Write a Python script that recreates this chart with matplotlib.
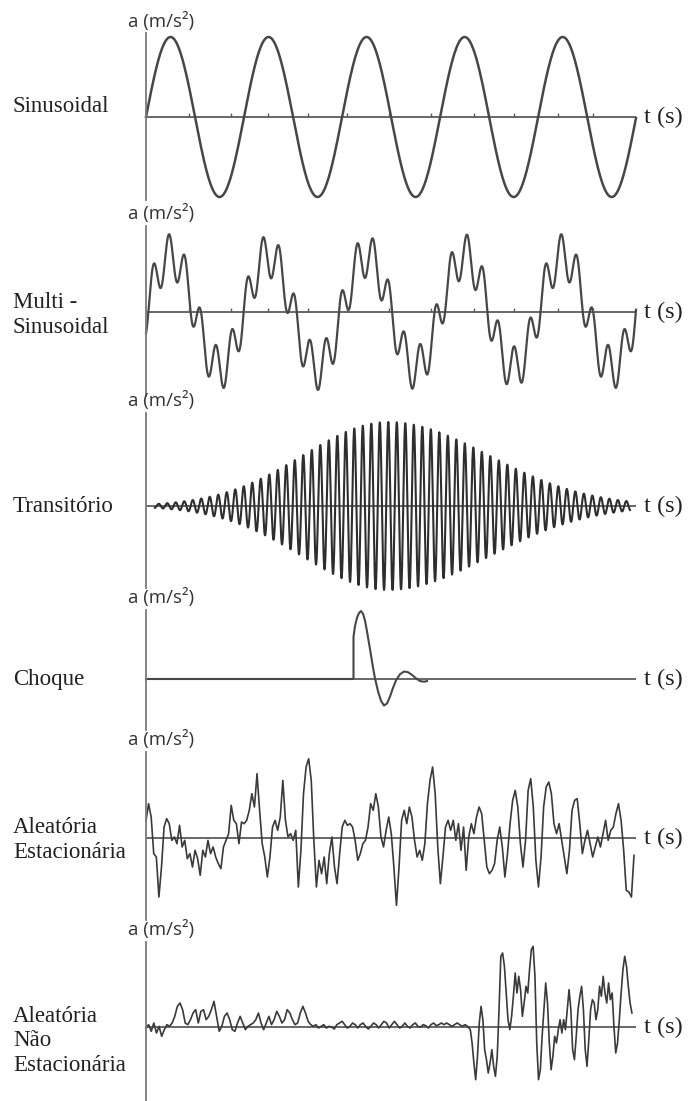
import numpy as np
import matplotlib
matplotlib.use("Agg")
import matplotlib.pyplot as plt

# ------------------------------------------------------------------ data
T_SPAN = 4.90                      # s, length of every time axis

# Sinusoidal
SINE_AMP = 1.0
SINE_FREQ = 1.02                   # Hz
SINE_PHASE = 0.0                   # rad

# Multi-sinusoidal (fundamental + harmonic)
MULTI_AMPS = [0.72, 0.28]
MULTI_FREQS = [1.02, 6.375]        # Hz
MULTI_PHASES = [0.0, 4.924]        # rad

# Transient (burst) : carrier + asymmetric bell envelope
TRANS_AMP = 1.0
TRANS_FREQ = 11.76                 # Hz
TRANS_PEAK_T = 2.423               # s
TRANS_SIGMA = [0.85, 1.00]         # s, rising / decaying side
TRANS_WINDOW = [0.09, 4.84]        # s

# Shock
shock_t = [0.0, 2.075, 2.075, 2.09, 2.11, 2.13, 2.15, 2.17, 2.19, 2.21, 2.24,
           2.27, 2.29, 2.32, 2.35, 2.38, 2.41, 2.44, 2.47, 2.50, 2.54, 2.58,
           2.62, 2.66, 2.70, 2.74, 2.78, 2.81]
shock_a = [0.0, 0.0, 0.62, 0.78, 0.90, 0.97, 1.0, 0.96, 0.86, 0.70, 0.44,
           0.17, 0.01, -0.18, -0.32, -0.39, -0.36, -0.26, -0.13, -0.02, 0.07,
           0.11, 0.10, 0.06, 0.01, -0.03, -0.04, -0.03]

# Stationary random signal (equally spaced)
STAT_T_END = 4.88
stat_a = [53, 103, 63, -47, -57, -177, -87, 33, 58, 43, -7, 3, -17, 38, -27,
          -7, -62, -47, -87, -37, -62, -112, -37, -57, -7, -47, -27, -57, -77,
          -92, -27, -7, 13, 98, 53, 43, -17, 48, 43, 53, 83, 133, 93, 193, 83,
          -17, -57, -117, -57, 33, 53, 23, 63, 173, 53, 3, 13, -7, 23, -147,
          -37, 133, 213, 238, 173, -7, -147, -67, -107, -57, -137, -47, 3,
          -87, -137, -47, 33, 53, 38, 43, 33, -7, -67, -47, -17, -7, 33, 103,
          83, 133, 93, 3, -27, 23, 63, 13, -87, -202, -87, 53, 83, 43, 93, 63,
          -7, -57, -37, -67, -17, 103, 173, 213, 133, -27, -137, -57, 33, 53,
          23, 53, -7, 43, -37, 33, -97, 3, 43, 13, 63, 93, 73, -7, -87, -107,
          -97, -77, -7, 33, -27, -117, -47, 43, 113, 143, 93, -17, -87, -7,
          143, 178, 93, -67, -147, -57, 93, 153, 168, 133, 43, 13, 43, -7, -57,
          -107, -37, 83, 113, 118, 43, -47, -7, 23, -17, -57, -27, 3, -27, 13,
          53, -7, 23, 33, 73, 103, 53, -37, -157, -162, -177, -52]

# Non-stationary random signal: calm part then burst
NONSTAT_CALM_T = [0.0, 3.216]
nonstat_calm_a = [-3, 7, -13, 12, -18, 2, -28, -8, 7, 2, 12, 32, 62, 72, 52, 12,
                  7, 22, 42, 52, 12, 47, 52, 22, 32, 52, 77, 32, -13, 2, 32, 42,
                  22, -8, -13, 12, 32, 12, -8, 2, 7, 12, 22, 42, 12, -8, 12, 32,
                  7, 22, 47, 32, 12, 22, 52, 42, 22, 7, 12, 42, 62, 42, 17, 7, 2,
                  7, -3, 2, 7, -3, 2, 0, -6, 7, 12, 17, 7, -3, 2, 12, 7, -3, 7,
                  12, 2, -6, 2, 12, 7, -3, 7, 17, 12, -3, 7, 17, 7, -3, 2, 12, 2,
                  -3, 7, 12, 2, 0, 7, 4, -3, 7, 12, 4, 7, 12, 7, 12, 7, 2, 7, 12,
                  7, 2, 7, 2]
NONSTAT_BURST_T = [3.243, 4.859]
nonstat_burst_a = [-8, -48, -108, -158, -88, 12, 62, 22, -68, -98, -138, -108,
                   -68, -118, -148, -88, 52, 212, 222, 182, 102, 22, -8, 32, 92,
                   162, 102, 152, 112, 32, 72, 122, 102, 172, 232, 242, 152, -48,
                   -158, -128, -28, 52, 132, 72, -48, -128, -88, -28, -48, -8,
                   22, -18, 22, -8, 52, 112, 52, -68, -98, -28, 52, 92, 122, 52,
                   -68, -118, -38, 52, 82, 72, 22, 52, 122, 92, 152, 102, 72,
                   132, 82, 102, 2, -78, -48, 22, 102, 172, 212, 182, 122, 72, 42]

# small tick marks on the time axis of the periodic signals
axis_ticks = [0.43, 0.85, 1.22, 1.62, 2.01, 2.43, 2.85, 3.28, 3.68, 4.12, 4.47]

names = ["Sinusoidal", "Multi -\nSinusoidal", "Transitório", "Choque",
         "Aleatória\nEstacionária", "Aleatória\nNão\nEstacionária"]
Y_LABEL = "a (m/s²)"
X_LABEL = "t (s)"

# ------------------------------------------------------------------ layout (pixels)
W, H = 689, 1101
X0, X1 = 146, 636
# axis top, axis bottom, zero line, px per data unit, name y
LAYOUT = [
    (33, 200, 117, 80, 106),
    (226, 396, 312, 78, 315),
    (413, 588, 506, 84, 506),
    (610, 730, 679, 68, 679),
    (752, 920, 838, 1 / 3, 840),
    (942, 1101, 1027, 1 / 3, 1041),
]

LINE = "#474747"
AXC = "#7a7a7a"
SERIF = ["Liberation Serif", "DejaVu Serif"]
SANS = ["Open Sans", "DejaVu Sans"]

fig = plt.figure(figsize=(W / 100, H / 100), dpi=100)
fig.patch.set_facecolor("white")


def make_axes(top, bot, zero, unit):
    ax = fig.add_axes([X0 / W, 1 - bot / H, (X1 - X0) / W, (bot - top) / H])
    ax.set_xlim(0, T_SPAN)
    ax.set_ylim(-(bot - zero) / unit, (zero - top) / unit)
    for s in ("top", "right", "bottom"):
        ax.spines[s].set_visible(False)
    ax.spines["left"].set_color(AXC)
    ax.spines["left"].set_linewidth(1.3)
    ax.set_xticks([])
    ax.set_yticks([])
    ax.patch.set_alpha(0)
    ax.axhline(0, color="#5c5c5c", lw=1.3, zorder=1)
    return ax


axes = [make_axes(*L[:4]) for L in LAYOUT]

# 1 sinusoidal
t = np.linspace(0, T_SPAN, 3000)
axes[0].plot(t, SINE_AMP * np.sin(2 * np.pi * SINE_FREQ * t + SINE_PHASE),
             color=LINE, lw=1.8, clip_on=False)

# 2 multi-sinusoidal
y = sum(a * np.sin(2 * np.pi * f * t + p)
        for a, f, p in zip(MULTI_AMPS, MULTI_FREQS, MULTI_PHASES))
axes[1].plot(t, y, color=LINE, lw=1.6, clip_on=False)

for ax in (axes[0], axes[1]):
    ax.vlines(axis_ticks, 0, 0.05, color="#5c5c5c", lw=1.0)

# 3 transient
tt = np.linspace(TRANS_WINDOW[0], TRANS_WINDOW[1], 8000)
sig = np.where(tt < TRANS_PEAK_T, TRANS_SIGMA[0], TRANS_SIGMA[1])
env = TRANS_AMP * np.exp(-0.5 * ((tt - TRANS_PEAK_T) / sig) ** 2)
axes[2].plot(tt, env * np.cos(2 * np.pi * TRANS_FREQ * (tt - TRANS_PEAK_T)),
             color="#2e2e2e", lw=1.5, clip_on=False)

# 4 shock
axes[3].plot(shock_t, shock_a, color=LINE, lw=1.5, clip_on=False)

# 5 stationary random
ts = np.linspace(0, STAT_T_END, len(stat_a))
axes[4].plot(ts, stat_a, color="#3a3a3a", lw=1.2, clip_on=False)

# 6 non-stationary random
tc = np.linspace(NONSTAT_CALM_T[0], NONSTAT_CALM_T[1], len(nonstat_calm_a))
tb = np.linspace(NONSTAT_BURST_T[0], NONSTAT_BURST_T[1], len(nonstat_burst_a))
axes[5].plot(np.r_[tc, tb], np.r_[nonstat_calm_a, nonstat_burst_a],
             color="#3a3a3a", lw=1.2, clip_on=False)

# texts
for (top, bot, zero, unit, ny), name in zip(LAYOUT, names):
    fig.text(128 / W, 1 - (top - 12) / H, Y_LABEL, family=SANS, fontsize=13.5,
             color="#333333", ha="left", va="center")
    fig.text(644 / W, 1 - zero / H, X_LABEL, family=SERIF, fontsize=17.5,
             color="#222222", ha="left", va="center")
    fig.text(13 / W, 1 - ny / H, name, family=SERIF, fontsize=16.5,
             color="#222222", ha="left", va="center", linespacing=1.2)

fig.savefig("out.png", dpi=100, facecolor="white")
